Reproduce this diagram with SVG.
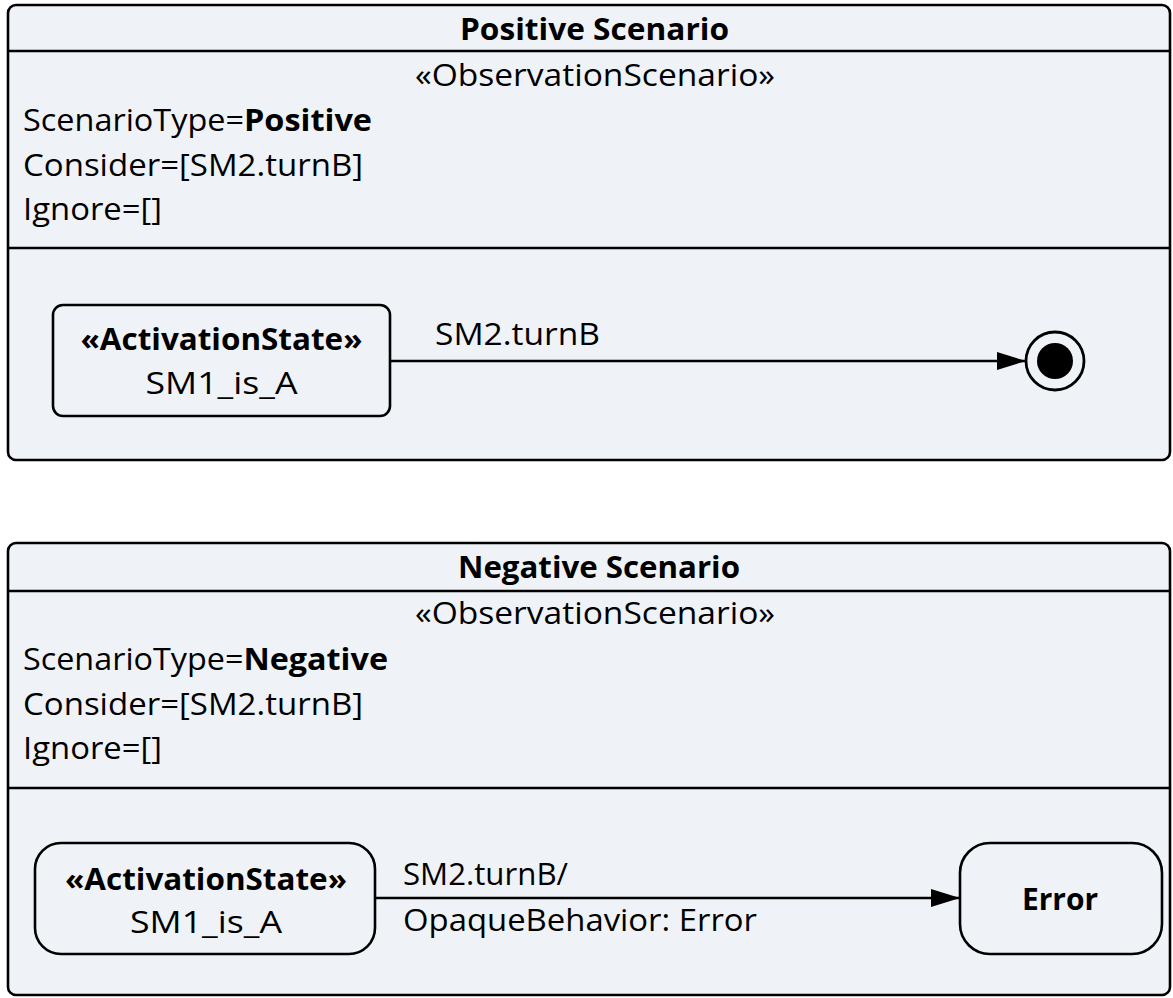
<svg xmlns="http://www.w3.org/2000/svg" width="1173" height="998" viewBox="0 0 1173 998">
<defs>
<style>
.frame{fill:#EFF3F7;stroke:#000;stroke-width:2.6}
.ln{stroke:#000;stroke-width:2.6;fill:none}
.st{fill:#EFF3F7;stroke:#000;stroke-width:2.6}
text{font-family:"Open Sans","Liberation Sans",sans-serif;font-size:31px;fill:#000}
.b{font-weight:bold}
.c{text-anchor:middle}
</style>
<marker id="arr" markerWidth="29" markerHeight="18" refX="29" refY="9" markerUnits="userSpaceOnUse" orient="auto">
<polygon points="0,0 29,9 0,18" fill="#000"/>
</marker>
</defs>
<rect width="1173" height="998" fill="#fff"/>
<g id="positive-scenario">
<rect class="frame" x="8" y="5" width="1162" height="455" rx="8"/>
<line class="ln" x1="8" y1="51" x2="1170" y2="51"/>
<line class="ln" x1="8" y1="248" x2="1170" y2="248"/>
<text class="b c" x="594.5" y="40" textLength="269" lengthAdjust="spacingAndGlyphs">Positive Scenario</text>
<text class="c" x="595" y="86" textLength="360" lengthAdjust="spacingAndGlyphs">«ObservationScenario»</text>
<text x="23" y="131" textLength="349" lengthAdjust="spacingAndGlyphs">ScenarioType=<tspan class="b">Positive</tspan></text>
<text x="23" y="176" textLength="340" lengthAdjust="spacingAndGlyphs">Consider=[SM2.turnB]</text>
<text x="23" y="220" textLength="139" lengthAdjust="spacingAndGlyphs">Ignore=[]</text>
</g>
<g id="pos-state">
<rect class="st" x="53" y="305" width="337" height="111" rx="10"/>
<text class="b c" x="221.5" y="350" textLength="282" lengthAdjust="spacingAndGlyphs">«ActivationState»</text>
<text class="c" x="221.5" y="394" textLength="152" lengthAdjust="spacingAndGlyphs">SM1_is_A</text>
</g>
<g id="pos-final">
<circle cx="1055" cy="361" r="29" fill="#EFF3F7" stroke="#000" stroke-width="2.8"/>
<circle cx="1055" cy="361" r="18" fill="#000"/>
</g>
<g id="negative-scenario">
<rect class="frame" x="8" y="543" width="1162" height="452" rx="8"/>
<line class="ln" x1="8" y1="591" x2="1170" y2="591"/>
<line class="ln" x1="8" y1="788" x2="1170" y2="788"/>
<text class="b c" x="599" y="578" textLength="282" lengthAdjust="spacingAndGlyphs">Negative Scenario</text>
<text class="c" x="595" y="624" textLength="360" lengthAdjust="spacingAndGlyphs">«ObservationScenario»</text>
<text x="23" y="670" textLength="365" lengthAdjust="spacingAndGlyphs">ScenarioType=<tspan class="b">Negative</tspan></text>
<text x="23" y="715" textLength="340" lengthAdjust="spacingAndGlyphs">Consider=[SM2.turnB]</text>
<text x="23" y="759" textLength="139" lengthAdjust="spacingAndGlyphs">Ignore=[]</text>
</g>
<g id="neg-state">
<rect class="st" x="35" y="843" width="340" height="111" rx="26"/>
<text class="b c" x="206" y="890" textLength="282" lengthAdjust="spacingAndGlyphs">«ActivationState»</text>
<text class="c" x="206" y="933" textLength="152" lengthAdjust="spacingAndGlyphs">SM1_is_A</text>
</g>
<g id="neg-error">
<rect class="st" x="960" y="843" width="202" height="111" rx="30"/>
<text class="b c" x="1060" y="910" textLength="76" lengthAdjust="spacingAndGlyphs">Error</text>
</g>
<g id="connectors">
<line class="ln" x1="390" y1="361" x2="1026" y2="361" marker-end="url(#arr)"/>
<text x="435" y="345" textLength="165" lengthAdjust="spacingAndGlyphs">SM2.turnB</text>
<line class="ln" x1="375" y1="898" x2="960" y2="898" marker-end="url(#arr)"/>
<text x="403" y="885" textLength="165" lengthAdjust="spacingAndGlyphs">SM2.turnB/</text>
<text x="403" y="931" textLength="354" lengthAdjust="spacingAndGlyphs">OpaqueBehavior: Error</text>
</g>
</svg>
